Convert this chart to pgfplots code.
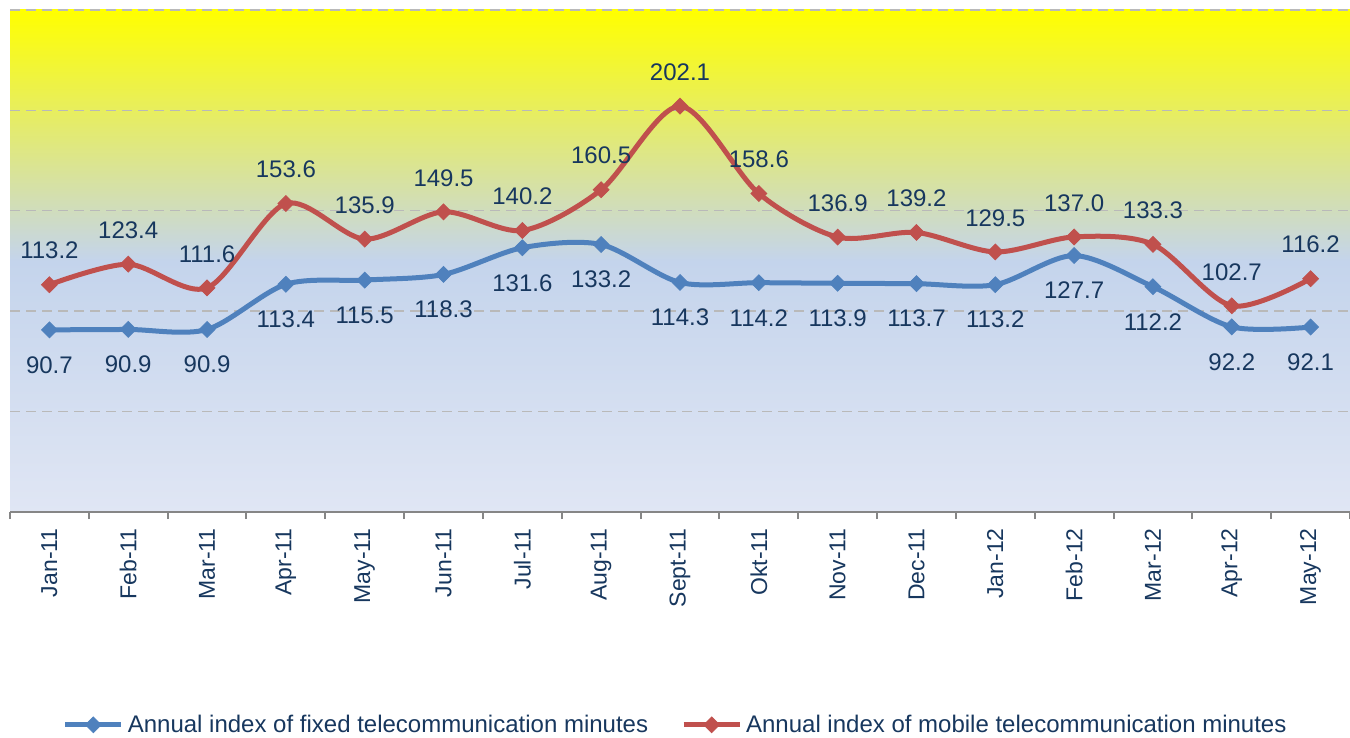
\documentclass[border=0pt]{standalone}
\usepackage{fontspec}
\setmainfont{Liberation Sans}
\usepackage{pgfplots}
\pgfplotsset{compat=1.18}
\definecolor{txt}{RGB}{23,55,94}
\definecolor{fixedc}{RGB}{79,129,189}
\definecolor{mobilec}{RGB}{192,80,77}
\definecolor{bgtop}{RGB}{255,255,0}
\definecolor{bgmid}{RGB}{196,212,236}
\definecolor{bgbot}{RGB}{224,230,244}
\definecolor{gridc}{RGB}{185,185,185}
\definecolor{axc}{RGB}{134,134,134}
\pgfdeclareverticalshading{bgshade}{100bp}{color(0bp)=(bgbot); color(25bp)=(bgbot); color(50bp)=(bgmid); color(75bp)=(bgtop); color(100bp)=(bgtop)}
\begin{document}
\begin{tikzpicture}
\path[use as bounding box] (-5pt,-113pt) rectangle (670pt,256pt);
\begin{axis}[
  at={(0pt,0pt)}, anchor=south west,
  scale only axis, width=670pt, height=251pt,
  xmin=-0.5, xmax=16.5, ymin=0, ymax=250,
  axis background/.style={shading=bgshade},
  axis x line*=bottom, axis y line*=left,
  x axis line style={draw=axc, line width=1pt, -},
  y axis line style={draw=none},
  xtick={0,...,16},
  xticklabels={Jan-11,Feb-11,Mar-11,Apr-11,May-11,Jun-11,Jul-11,Aug-11,Sept-11,Okt-11,Nov-11,Dec-11,Jan-12,Feb-12,Mar-12,Apr-12,May-12},
  minor xtick={-0.5,0.5,...,16.5},
  tick align=outside,
  major tick length=0pt, minor tick length=3.5pt,
  xtick style={draw=axc, line width=1pt},
  ytick style={draw=none},
  ytick={0,50,...,250}, yticklabels={},
  ymajorgrids, grid style={gridc, line width=0.7pt, dash pattern=on 5pt off 3pt},
  xticklabel style={rotate=90, anchor=east, font=\fontsize{11.5}{13}\selectfont, text=txt, inner sep=0pt},
  xticklabel shift=8pt,
  legend style={at={(0.4975,-0.424)}, anchor=center, draw=none, fill=none, legend columns=2,
    font=\fontsize{12}{14}\selectfont, text=txt,
    /tikz/every even column/.append style={column sep=14.5pt}},
  legend image code/.code={\draw[mark repeat=2,mark phase=2,#1] plot coordinates {(0pt,0pt) (14pt,0pt) (28pt,0pt)};},
  nodes near coords,
  point meta=y,
  every node near coord/.append style={font=\fontsize{12}{14}\selectfont, text=txt, anchor=center},
  /pgf/number format/fixed, /pgf/number format/fixed zerofill, /pgf/number format/precision=1,
  /pgf/number format/assume math mode=true,
]
\addplot[fixedc, line width=2.5pt, smooth, mark=square*, mark size=2.8pt,
  mark options={rotate=45, solid, line width=0.4pt},
  every node near coord/.append style={yshift=-17.5pt}] coordinates {
  (0,90.7) (1,90.9) (2,90.9) (3,113.4) (4,115.5) (5,118.3) (6,131.6) (7,133.2) (8,114.3)
  (9,114.2) (10,113.9) (11,113.7) (12,113.2) (13,127.7) (14,112.2) (15,92.2) (16,92.1)};
\addlegendentry{Annual index of fixed telecommunication minutes}
\addplot[mobilec, line width=2.5pt, smooth, mark=square*, mark size=2.8pt,
  mark options={rotate=45, solid, line width=0.4pt},
  every node near coord/.append style={yshift=17pt}] coordinates {
  (0,113.2) (1,123.4) (2,111.6) (3,153.6) (4,135.9) (5,149.5) (6,140.2) (7,160.5) (8,202.1)
  (9,158.6) (10,136.9) (11,139.2) (12,129.5) (13,137.0) (14,133.3) (15,102.7) (16,116.2)};
\addlegendentry{Annual index of mobile telecommunication minutes}
\end{axis}
\end{tikzpicture}
\end{document}
